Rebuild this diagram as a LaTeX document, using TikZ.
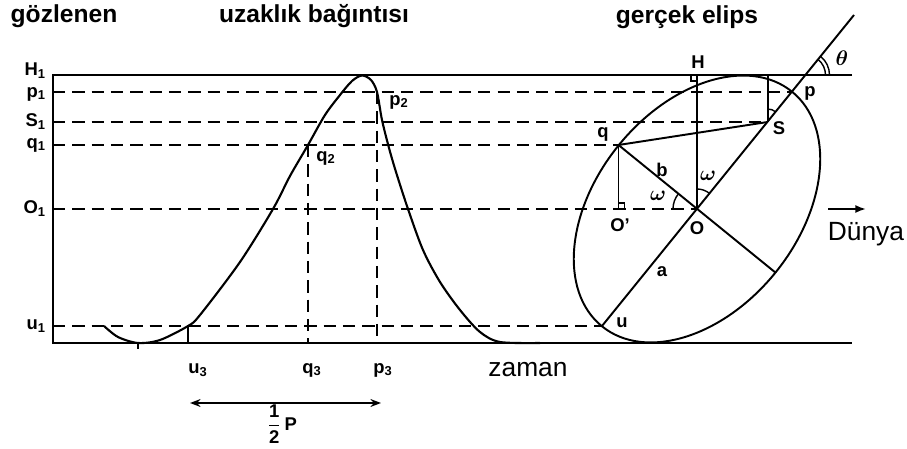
\documentclass[tikz,border=0pt]{standalone}
\usepackage{fontspec}
\setmainfont{Liberation Sans}
\usetikzlibrary{arrows.meta}

\begin{document}
\begin{tikzpicture}[
    x=0.02cm, y=-0.02cm,
    line width=1.1pt,
    guide/.style={line width=0.9pt, dash pattern=on 7pt off 4pt},
    curve/.style={line width=1.2pt},
    title/.style={font=\fontsize{14}{16}\selectfont\bfseries, inner sep=0pt},
    caption/.style={font=\fontsize{15}{17}\selectfont, inner sep=0pt},
    tag/.style={font=\fontsize{10.5}{12}\selectfont\bfseries, inner sep=0pt},
    greek/.style={font=\fontsize{13}{14}\selectfont\boldmath, inner sep=0pt},
    anglearc/.style={line width=0.8pt},
  ]
  \useasboundingbox (0,0) rectangle (907,449);
  \def\xL{53}
  \def\xR{852}
  \def\yH{75}
  \def\yp{92}
  \def\yS{122}
  \def\yq{145}
  \def\yO{209}
  \def\yu{326}
  \def\yB{343}

  % Titles
  \node[title] (tobs) at (64,16) {gözlenen};
  \node[title] (tvel) at (314,16) {uzaklık bağıntısı};
  \node[title] (tell) at (687,17) {gerçek elips};

  % Frame
  \coordinate (H1) at (\xL,\yH);
  \coordinate (p1) at (\xL,\yp);
  \coordinate (S1) at (\xL,\yS);
  \coordinate (q1) at (\xL,\yq);
  \coordinate (O1) at (\xL,\yO);
  \coordinate (u1) at (\xL,\yu);
  \coordinate (B1) at (\xL,\yB);
  \coordinate (HR) at (\xR,\yH);
  \coordinate (BR) at (\xR,\yB);
  \draw (HR) -- (H1) -- (B1) -- (BR);

  % Left level labels
  \node[tag, anchor=east] (lH1) at (47,71) {H\textsubscript{1}};
  \node[tag, anchor=east] (lp1) at (47,94) {p\textsubscript{1}};
  \node[tag, anchor=east] (lS1) at (47,\yS) {S\textsubscript{1}};
  \node[tag, anchor=east] (lq1) at (47,\yq) {q\textsubscript{1}};
  \node[tag, anchor=east] (lO1) at (47,\yO) {O\textsubscript{1}};
  \node[tag, anchor=east] (lu1) at (47,\yu) {u\textsubscript{1}};

  % Points of the true ellipse
  \coordinate (O) at (697,\yO);
  \coordinate (p) at (792,\yp);
  \coordinate (S) at (767.6,\yS);
  \coordinate (q) at (618.5,\yq);
  \coordinate (u) at (602,\yu);
  \coordinate (m) at (775.5,272.6);
  \coordinate (H) at (697,\yH);
  \coordinate (SH) at (767.6,\yH);
  \coordinate (Op) at (618.5,\yO);
  \coordinate (T) at (805.5,\yH);
  \coordinate (E) at (854,15);

  % Dashed levels
  \draw[guide] (p1) -- (p);
  \draw[guide] (S1) -- (S);
  \draw[guide] (q1) -- (q);
  \draw[guide] (O1) -- (O);
  \draw[guide] (u1) -- (u);

  % Velocity curve
  \coordinate (q2) at (308,\yq);
  \coordinate (p2) at (377,\yp);
  \coordinate (u3t) at (188,\yu);
  \coordinate (q3) at (308,\yB);
  \coordinate (p3) at (377,\yB);
  \coordinate (u3) at (188,\yB);
  \draw[curve] plot[smooth, tension=0.5] coordinates {
    (104,326) (118,337) (138,343) (160,340) (u3t) (200,315) (240,262)
    (273,209) (290,176) (q2) (325,115) (340,95) (352,81) (362,75.5)
    (371,80) (p2) (382,120) (389,148) (396,172) (408,209) (423,250)
    (440,282) (460,310) (480,332) (500,342) (540,343)};
  \draw[guide] (q2) -- (q3);
  \draw[guide] (p2) -- (p3);
  \draw (u3t) -- (u3);
  \draw[line width=0.8pt] (138,\yB) -- (138,349);

  \node[tag] (lq2) at (326,158) {q\textsubscript{2}};
  \node[tag] (lp2) at (399,102) {p\textsubscript{2}};
  \node[tag] (lu3) at (198,370) {u\textsubscript{3}};
  \node[tag] (lq3) at (312,370) {q\textsubscript{3}};
  \node[tag] (lp3) at (383,370) {p\textsubscript{3}};
  \node[caption] (ttime) at (528,370) {zaman};

  % Half period
  \coordinate (hL) at (190,403);
  \coordinate (hR) at (381,403);
  \draw[{Stealth[length=6pt]}-{Stealth[length=6pt]}] (hL) -- (hR);
  \node[tag] (lhalf) at (282,424) {$\displaystyle\frac{\textbf{1}}{\textbf{2}}$\,P};

  % Ellipse and its axes
  \draw[rotate around={51:(O)}] (O) ellipse [x radius=3.02cm, y radius=2.02cm];
  \draw (u) -- (E);
  \draw (q) -- (m);
  \draw (O) -- (H);
  \draw (S) -- (SH);
  \draw (q) -- (Op);
  \draw (q) -- (S);

  % Right angles and angles
  \draw[anglearc] (H) ++(-6,0) -- ++(0,6) -- ++(6,0);
  \draw[anglearc] (Op) ++(6,0) -- ++(0,-6) -- ++(-6,0);
  \draw[anglearc] (O) ++(-51:20) arc[start angle=-51, end angle=-90, radius=20];
  \draw[anglearc] (O) ++(-141:24) arc[start angle=-141, end angle=-180, radius=24];
  \draw[anglearc] (S) ++(-51:13) arc[start angle=-51, end angle=-90, radius=13];
  \draw[anglearc] (T) ++(0:20) arc[start angle=0, end angle=-51, radius=20];
  \draw[anglearc] (T) ++(0:24) arc[start angle=0, end angle=-51, radius=24];

  % Ellipse labels
  \node[tag] (lH) at (698,62) {H};
  \node[tag] (lp) at (810,93) {p};
  \node[tag] (lS) at (779,128) {S};
  \node[tag] (lq) at (603,134) {q};
  \node[tag] (lb) at (662,170) {b};
  \node[tag] (la) at (662,272) {a};
  \node[tag] (lu) at (622,323) {u};
  \node[tag] (lO) at (697,228) {O};
  \node[tag] (lOp) at (620,225) {O'};
  \node[greek] (lw1) at (708,176) {$\omega$};
  \node[greek] (lw2) at (658,196) {$\omega$};
  \node[greek] (lth) at (842,58) {$\theta$};

  % Earth direction
  \coordinate (D0) at (828,\yO);
  \coordinate (D1) at (866,\yO);
  \draw[-{Latex[length=6pt]}] (D0) -- (D1);
  \node[caption] (tearth) at (866,234) {Dünya};
\end{tikzpicture}
\end{document}
